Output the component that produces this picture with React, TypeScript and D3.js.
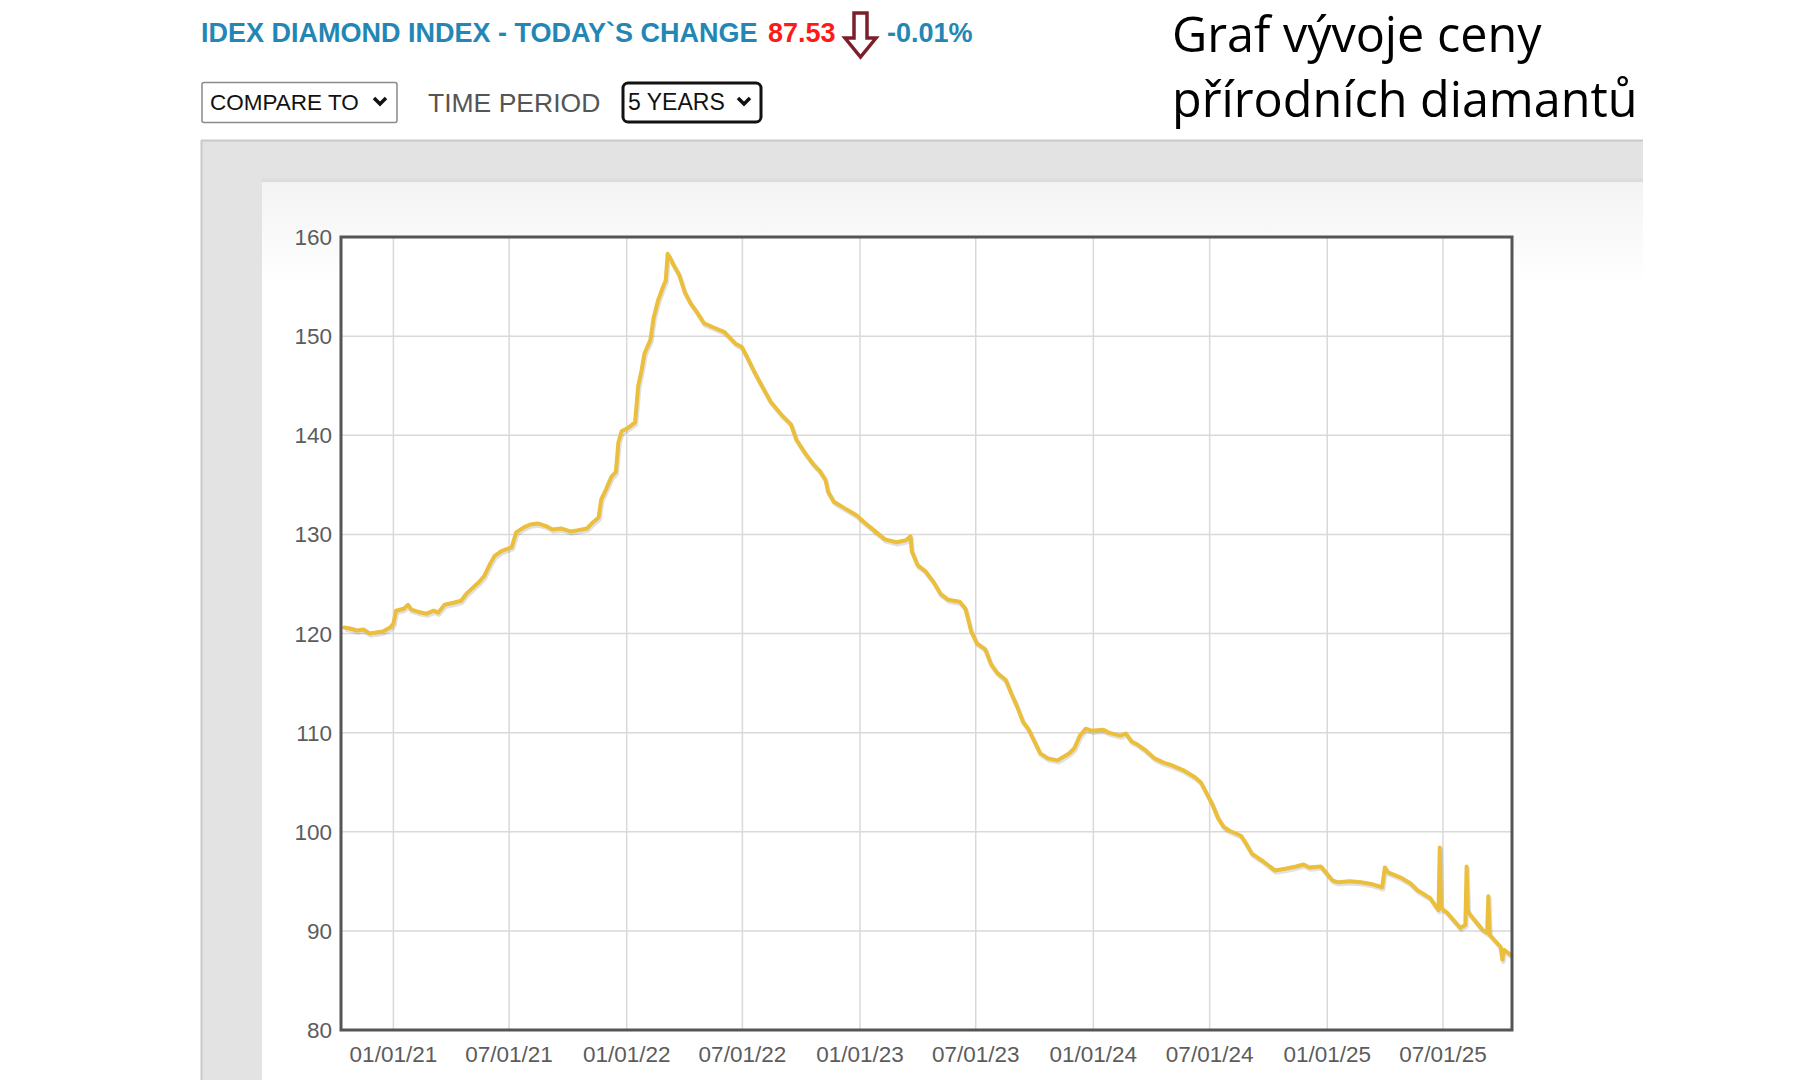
import React from "react";
import * as d3 from "d3";

const dates: string[] = [
  "2020-10-16","2020-10-25","2020-11-05","2020-11-15","2020-11-25","2020-12-05","2020-12-15","2020-12-27",
  "2021-01-01","2021-01-05","2021-01-17","2021-01-24","2021-01-29","2021-02-08","2021-02-22","2021-03-05",
  "2021-03-12","2021-03-22","2021-04-05","2021-04-17","2021-04-25","2021-05-05","2021-05-15","2021-05-23",
  "2021-06-01","2021-06-08","2021-06-19","2021-07-05","2021-07-12","2021-07-24","2021-08-03","2021-08-15",
  "2021-08-29","2021-09-07","2021-09-20","2021-10-05","2021-10-15","2021-10-31","2021-11-09","2021-11-18",
  "2021-11-22","2021-11-30","2021-12-08","2021-12-15","2021-12-19","2021-12-24","2022-01-02","2022-01-14",
  "2022-01-19","2022-01-24","2022-01-29","2022-02-07","2022-02-12","2022-02-19","2022-02-27","2022-03-03",
  "2022-03-06","2022-03-09","2022-03-16","2022-03-24","2022-04-02","2022-04-11","2022-04-20","2022-05-02",
  "2022-05-16","2022-06-03","2022-06-21","2022-06-30","2022-07-09","2022-07-18","2022-07-27","2022-08-14",
  "2022-09-01","2022-09-15","2022-09-23","2022-10-07","2022-10-21","2022-10-30","2022-11-08","2022-11-12",
  "2022-11-21","2022-12-09","2022-12-27","2023-01-08","2023-01-23","2023-02-09","2023-02-27","2023-03-14",
  "2023-03-21","2023-03-23","2023-04-01","2023-04-13","2023-04-26","2023-05-07","2023-05-19","2023-06-06",
  "2023-06-15","2023-06-24","2023-07-03","2023-07-16","2023-07-25","2023-08-04","2023-08-17","2023-08-26",
  "2023-09-04","2023-09-13","2023-09-22","2023-10-01","2023-10-10","2023-10-22","2023-11-06","2023-11-24",
  "2023-12-02","2023-12-11","2023-12-20","2023-12-29","2024-01-16","2024-01-25","2024-02-12","2024-02-21",
  "2024-03-01","2024-03-10","2024-03-23","2024-04-06","2024-04-19","2024-05-03","2024-05-21","2024-06-08",
  "2024-06-17","2024-06-26","2024-07-05","2024-07-14","2024-07-23","2024-08-01","2024-08-19","2024-08-28",
  "2024-09-05","2024-09-14","2024-09-23","2024-10-11","2024-10-29","2024-11-13","2024-11-25","2024-12-04",
  "2024-12-22","2024-12-31","2025-01-09","2025-01-18","2025-02-05","2025-02-23","2025-03-13","2025-03-28",
  "2025-04-01","2025-04-06","2025-04-25","2025-05-11","2025-05-22","2025-06-11","2025-06-24","2025-06-26",
  "2025-06-28","2025-07-08","2025-07-28","2025-08-05","2025-08-07","2025-08-09","2025-08-13","2025-09-01",
  "2025-09-08","2025-09-10","2025-09-12","2025-09-29","2025-10-02","2025-10-04","2025-10-16",
];

const values: number[] = [
  120.6,120.5,120.3,120.4,120.0,120.1,120.2,120.6,
  121.0,122.3,122.5,122.9,122.4,122.2,122.0,122.3,
  122.1,122.9,123.1,123.3,124.0,124.6,125.2,125.8,
  127.0,127.8,128.3,128.7,130.2,130.7,131.0,131.1,
  130.8,130.5,130.6,130.3,130.4,130.6,131.2,131.7,
  133.5,134.6,135.8,136.3,139.3,140.4,140.7,141.3,
  145.0,146.5,148.3,149.6,151.8,153.6,155.0,155.6,
  158.3,158.0,157.1,156.2,154.4,153.3,152.5,151.3,
  150.9,150.4,149.2,148.9,147.8,146.6,145.5,143.4,
  142.0,141.1,139.6,138.2,137.0,136.4,135.5,134.3,
  133.3,132.6,131.9,131.2,130.4,129.5,129.2,129.4,
  129.8,128.3,126.9,126.3,125.2,124.0,123.4,123.2,
  122.5,120.2,119.0,118.4,116.9,116.0,115.3,113.9,
  112.6,111.1,110.3,109.1,107.9,107.4,107.2,107.9,
  108.4,109.7,110.4,110.2,110.3,110.0,109.7,109.9,
  109.1,108.8,108.2,107.4,107.0,106.7,106.2,105.5,
  105.0,103.9,102.8,101.4,100.5,100.1,99.6,98.7,
  97.8,97.4,97.0,96.1,96.3,96.5,96.7,96.4,
  96.5,95.8,95.1,94.9,95.0,94.9,94.7,94.4,
  96.4,95.9,95.4,94.8,94.1,93.3,92.1,98.4,
  92.3,91.8,90.3,90.6,96.5,92.0,91.6,90.1,
  89.8,93.5,89.6,88.4,87.1,88.1,87.53,
];

const xTickDates: string[] = [
  "2021-01-01","2021-07-01","2022-01-01","2022-07-01","2023-01-01",
  "2023-07-01","2024-01-01","2024-07-01","2025-01-01","2025-07-01",
];
const yTicks: number[] = [80, 90, 100, 110, 120, 130, 140, 150, 160];
const xDomain: string[] = ["2020-10-11", "2025-10-17"];
const yDomain: number[] = [80, 160];

const headerTitle = "IDEX DIAMOND INDEX - TODAY`S CHANGE";
const headerValue = "87.53";
const headerChange = "-0.01%";
const czechTitle: string[] = ["Graf vývoje ceny", "přírodních diamantů"];

const parse = d3.timeParse("%Y-%m-%d");
const fmt = d3.timeFormat("%m/%d/%y");

export default function App() {
  const L = 341, R = 1512, T = 237, B = 1030;
  const x = d3.scaleTime().domain(xDomain.map((d) => parse(d) as Date)).range([L, R]);
  const y = d3.scaleLinear().domain(yDomain).range([B, T]);
  const data = dates.map((d, i) => ({ date: parse(d) as Date, v: values[i] }));
  const line = d3
    .line<{ date: Date; v: number }>()
    .x((d) => x(d.date))
    .y((d) => y(d.v))
    .curve(d3.curveLinear);
  const path = line(data) || "";
  const font = "'Liberation Sans', Arial, sans-serif";
  const teal = "#2386b4";

  return (
    <div style={{ position: "absolute", left: 0, top: 0, width: 1800, height: 1080, background: "#fff" }}>
      <svg width={1800} height={1080} style={{ display: "block" }}>
        <defs>
          <linearGradient id="innerGrad" x1="0" y1="0" x2="0" y2="1">
            <stop offset="0" stopColor="#f3f3f3" />
            <stop offset="1" stopColor="#ffffff" />
          </linearGradient>
          <linearGradient id="topShadow" x1="0" y1="0" x2="0" y2="1">
            <stop offset="0" stopColor="#e4e4e4" />
            <stop offset="1" stopColor="#dadada" />
          </linearGradient>
        </defs>

        {/* Header */}
        <text x={201} y={42} fontFamily={font} fontWeight="bold" fontSize={27} fill={teal}>
          {headerTitle}
        </text>
        <text x={768} y={42} fontFamily={font} fontWeight="bold" fontSize={27} fill="#ff1a1a">
          {headerValue}
        </text>
        <path
          d="M854,13 L867,13 L867,38 L876,38 L860.5,57 L845,38 L854,38 Z"
          fill="#fff"
          stroke="#7b1f2b"
          strokeWidth={3.5}
          strokeLinejoin="miter"
        />
        <text x={887} y={42} fontFamily={font} fontWeight="bold" fontSize={27} fill={teal}>
          {headerChange}
        </text>

        {/* Controls */}
        <rect x={202} y={82.5} width={195} height={40} rx={2} fill="#fff" stroke="#8a8a8a" strokeWidth={1.5} />
        <text x={210} y={110} fontFamily={font} fontSize={22.5} fill="#111">COMPARE TO</text>
        <path d="M374,98 L380,104 L386,98" fill="none" stroke="#111" strokeWidth={3.5} />
        <text x={428} y={112} fontFamily={font} fontSize={26.5} fill="#555">TIME PERIOD</text>
        <rect x={623} y={83} width={138} height={39} rx={5} fill="#fff" stroke="#111" strokeWidth={3} />
        <text x={628} y={110} fontFamily={font} fontSize={23} fill="#111">5 YEARS</text>
        <path d="M738,98 L744,104 L750,98" fill="none" stroke="#111" strokeWidth={3.5} />

        {/* Czech title */}
        {czechTitle.map((t, i) => (
          <text key={i} x={1172} y={52 + i * 65} fontFamily="'Open Sans', 'Noto Sans', sans-serif" fontSize={48.5} fill="#000">
            {t}
          </text>
        ))}

        {/* Panels */}
        <rect x={201} y={140} width={1442} height={950} fill="#e3e3e3" />
        <line x1={201} y1={140.5} x2={1643} y2={140.5} stroke="#c9c9c9" strokeWidth={2} />
        <line x1={201.5} y1={140} x2={201.5} y2={1080} stroke="#c9c9c9" strokeWidth={2} />
        <rect x={262} y={176} width={1381} height={6} fill="url(#topShadow)" />
        <rect x={262} y={182} width={1381} height={900} fill="#fff" />
        <rect x={262} y={182} width={1381} height={100} fill="url(#innerGrad)" />

        {/* Grid */}
        <rect x={L} y={T} width={R - L} height={B - T} fill="#fff" />
        {yTicks.map((t) => (
          <line key={"gy" + t} x1={L} x2={R} y1={y(t)} y2={y(t)} stroke="#d9d9d9" strokeWidth={1.5} />
        ))}
        {xTickDates.map((d) => {
          const xx = x(parse(d) as Date);
          return <line key={"gx" + d} x1={xx} x2={xx} y1={T} y2={B} stroke="#d9d9d9" strokeWidth={1.5} />;
        })}

        {/* Line shadow + line */}
        <path d={path} fill="none" stroke="rgba(0,0,0,0.12)" strokeWidth={4.5} transform="translate(1,2)" strokeLinejoin="round" />
        <path d={path} fill="none" stroke="#ebbf3c" strokeWidth={4} strokeLinejoin="round" strokeLinecap="round" />

        {/* Frame */}
        <rect x={L} y={T} width={R - L} height={B - T} fill="none" stroke="#555" strokeWidth={3} />

        {/* Y labels */}
        {yTicks.map((t) => (
          <text key={"ly" + t} x={332} y={y(t)} dy="0.36em" textAnchor="end" fontFamily={font} fontSize={22.5} fill="#5c5c5c">
            {t}
          </text>
        ))}
        {/* X labels */}
        {xTickDates.map((d) => {
          const dt = parse(d) as Date;
          return (
            <text key={"lx" + d} x={x(dt)} y={1062} textAnchor="middle" fontFamily={font} fontSize={22.5} fill="#5c5c5c">
              {fmt(dt)}
            </text>
          );
        })}
      </svg>
    </div>
  );
}
